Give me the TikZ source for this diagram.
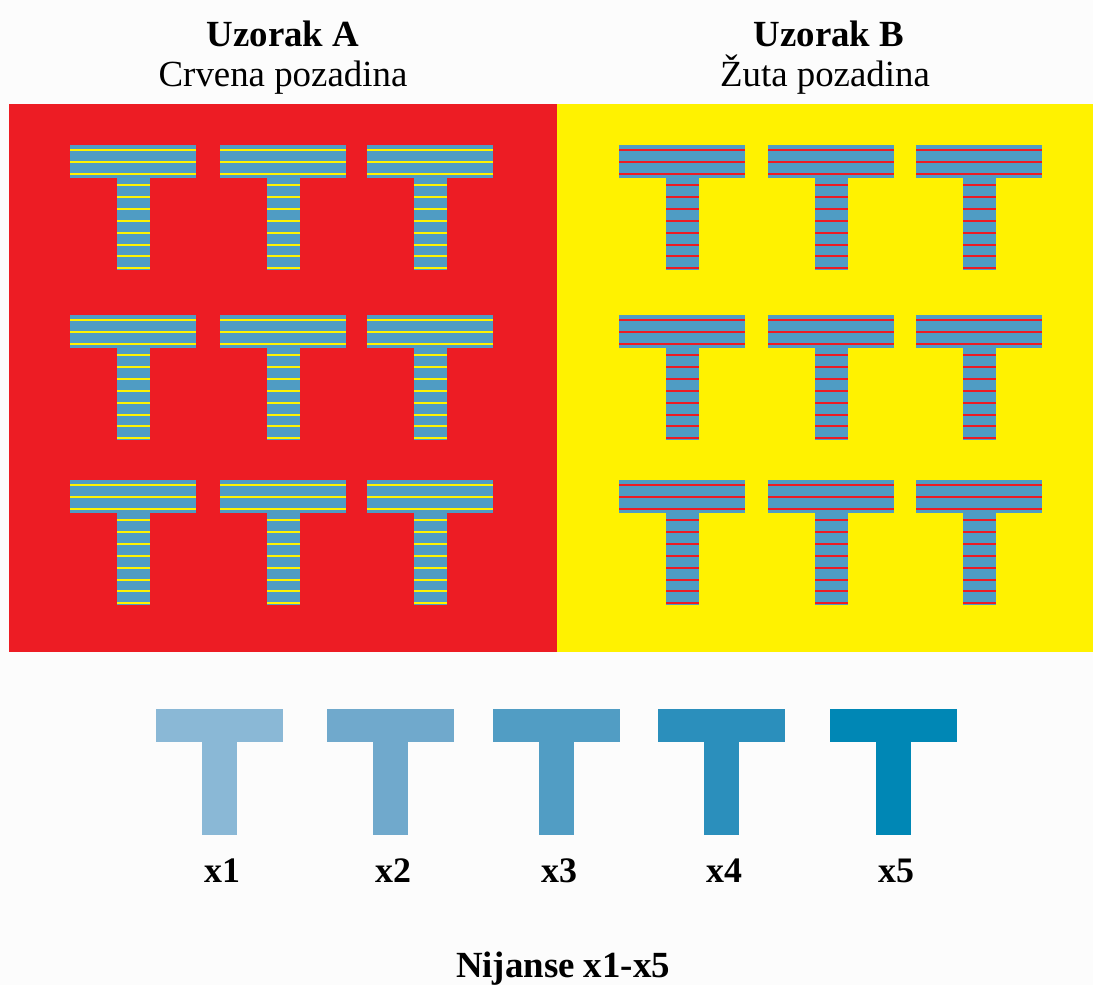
\documentclass[tikz,border=0pt]{standalone}
\usepackage{fontspec}
\setmainfont{Liberation Serif}

\definecolor{pagewhite}{RGB}{252,252,252}
\definecolor{panelred}{RGB}{237,28,36}
\definecolor{panelyellow}{RGB}{255,242,0}
\definecolor{teeblue}{RGB}{79,156,196}
\definecolor{shadeone}{RGB}{138,184,214}
\definecolor{shadetwo}{RGB}{112,169,204}
\definecolor{shadethree}{RGB}{81,157,196}
\definecolor{shadefour}{RGB}{43,143,188}
\definecolor{shadefive}{RGB}{0,135,181}

\tikzset{
    pics/tee/.style={code={
        \fill[#1] (0,0) rectangle (127,33);
        \fill[#1] (46,33) rectangle (81,126);
    }},
    pics/stripedtee/.style={code={
        \fill[teeblue] (0,0) rectangle (126,33);
        \fill[teeblue] (47,33) rectangle (80,125);
        \foreach \k in {0,1,2}
            \fill[#1] (0,{4+11.83*\k}) rectangle (126,{6+11.83*\k});
        \foreach \k in {3,...,10}
            \fill[#1] (47,{4+11.83*\k}) rectangle (80,{6+11.83*\k});
    }},
    heading/.style={anchor=base, font=\fontsize{37}{44}\selectfont\bfseries},
    subheading/.style={anchor=base, font=\fontsize{37}{44}\selectfont},
    shadelabel/.style={anchor=base, font=\fontsize{36}{42}\selectfont\bfseries}
}

\begin{document}
\begin{tikzpicture}[x=1bp, y=-1bp]
    \fill[pagewhite] (0,0) rectangle (1093,985);

    \node[heading] (titleA) at (283,46) {Uzorak A};
    \node[subheading] (subA) at (283,86) {Crvena pozadina};
    \node[heading] (titleB) at (829,46) {Uzorak B};
    \node[subheading] (subB) at (825,86) {Žuta pozadina};

    \fill[panelred] (9,104) rectangle (557,652);
    \fill[panelyellow] (557,104) rectangle (1093,652);

    \foreach \cx in {70,220,367}
        \foreach \cy in {145,315,480}
            \pic at (\cx,\cy) {stripedtee=panelyellow};

    \foreach \cx in {619,768,916}
        \foreach \cy in {145,315,480}
            \pic at (\cx,\cy) {stripedtee=panelred};

    \foreach \lx/\shade/\lab in {156/shadeone/x1, 327/shadetwo/x2,
            493/shadethree/x3, 658/shadefour/x4, 830/shadefive/x5} {
        \pic at (\lx,709) {tee=\shade};
        \node[shadelabel] (lab\lab) at (\lx+66,882) {\lab};
    };

    \node[heading] (shades) at (563,977) {Nijanse x1-x5};
\end{tikzpicture}
\end{document}
